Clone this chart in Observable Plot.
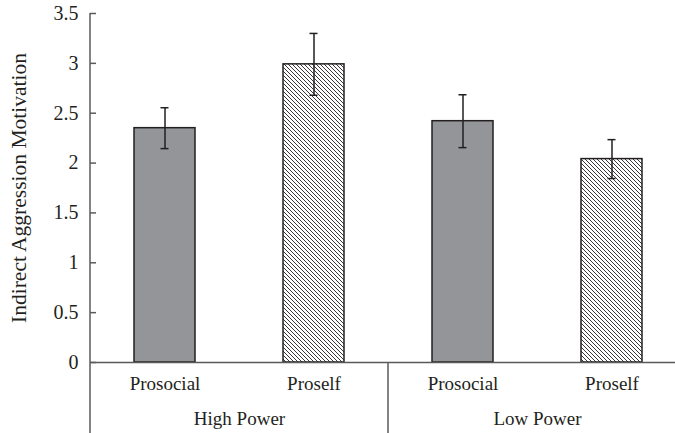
<!DOCTYPE html>
<html><head><meta charset="utf-8">
<script src="https://cdn.jsdelivr.net/npm/d3@7"></script>
<script src="https://cdn.jsdelivr.net/npm/@observablehq/plot@0.6"></script>
<style>body{margin:0;background:#fff}</style>
</head><body><div id="chart"></div>
<script>
// Data
const groupLabels = ["High Power", "Low Power"];
const conditionLabels = ["Prosocial", "Proself"];
const powers = ["High Power", "High Power", "Low Power", "Low Power"];
const orientations = ["Prosocial", "Proself", "Prosocial", "Proself"];
const means = [2.35, 2.99, 2.42, 2.04];
const errors = [0.205, 0.31, 0.265, 0.195];
const yTicks = [0, 0.5, 1, 1.5, 2, 2.5, 3, 3.5];
const yLabel = "Indirect Aggression Motivation";

const data = powers.map((p, i) => ({power: p, orient: orientations[i], mean: means[i], se: errors[i]}));
const ink = "#231f20", axisInk = "#5a5a5a";
const font = '"Liberation Serif", "Times New Roman", serif';

const plot = Plot.plot({
  width: 675, height: 433,
  marginTop: 13, marginBottom: 71, marginLeft: 90, marginRight: -11,
  style: {fontFamily: font, fontSize: "19px", color: ink, background: "#fff", overflow: "hidden"},
  fx: {domain: groupLabels, padding: 0},
  x: {domain: conditionLabels, paddingInner: 0.59, paddingOuter: 0.295},
  y: {domain: [0, 3.5]},
  marks: [
    Plot.barY(data.filter(d => d.orient === "Prosocial"), {fx: "power", x: "orient", y: "mean", fill: "#939598", stroke: ink, strokeWidth: 1.5}),
    Plot.barY(data.filter(d => d.orient === "Proself"), {fx: "power", x: "orient", y: "mean", fill: "url(#hatch)", stroke: ink, strokeWidth: 1.5}),
    Plot.ruleY([0], {stroke: axisInk, strokeWidth: 1.5}),
    Plot.ruleX(data, {fx: "power", x: "orient", y1: d => d.mean - d.se, y2: d => d.mean + d.se, stroke: ink, strokeWidth: 1.5}),
    Plot.tickY(data, {fx: "power", x: "orient", y: d => d.mean - d.se, insetLeft: 26.5, insetRight: 26.5, stroke: ink, strokeWidth: 1.5}),
    Plot.tickY(data, {fx: "power", x: "orient", y: d => d.mean + d.se, insetLeft: 26.5, insetRight: 26.5, stroke: ink, strokeWidth: 1.5}),
    Plot.axisY({ticks: yTicks, tickFormat: d => String(d), tickSize: -6, tickPadding: 18, stroke: axisInk, strokeWidth: 1.5,
      label: null, fontSize: 20}),
    Plot.axisY({ticks: [], tickSize: 0, label: yLabel, labelAnchor: "center", labelOffset: 80, labelArrow: false, fontSize: 21.5}),
    Plot.axisX({tickSize: 0, tickPadding: 14, label: null, fontSize: 19}),
    Plot.axisFx({anchor: "bottom", tickSize: 0, tickPadding: 49, label: null, fontSize: 19})
  ]
});

const svgNode = plot.tagName.toLowerCase() === "svg" ? plot : plot.querySelector("svg");
const svg = d3.select(svgNode);
const defs = svg.insert("defs", ":first-child");
const pat = defs.append("pattern").attr("id", "hatch").attr("patternUnits", "userSpaceOnUse").attr("width", 4).attr("height", 4);
pat.append("rect").attr("width", 4).attr("height", 4).attr("fill", "#fff");
pat.append("path").attr("d", "M-1,-1L5,5M-1,3L1,5M3,-1L5,1").attr("stroke", "#3a3536").attr("stroke-width", 1);

// axis line and group separator, positioned through Plot's scales
const fxScale = plot.scale("fx"), yScale = plot.scale("y");
const bottom = 433;
const g = svg.append("g").attr("stroke", axisInk).attr("stroke-width", 1.5);
g.append("line").attr("x1", fxScale.apply(groupLabels[0])).attr("x2", fxScale.apply(groupLabels[0]))
  .attr("y1", yScale.apply(yTicks[yTicks.length - 1])).attr("y2", bottom);
g.append("line").attr("x1", fxScale.apply(groupLabels[1])).attr("x2", fxScale.apply(groupLabels[1]))
  .attr("y1", yScale.apply(0)).attr("y2", bottom);

document.getElementById("chart").appendChild(plot);
</script>
</body></html>
